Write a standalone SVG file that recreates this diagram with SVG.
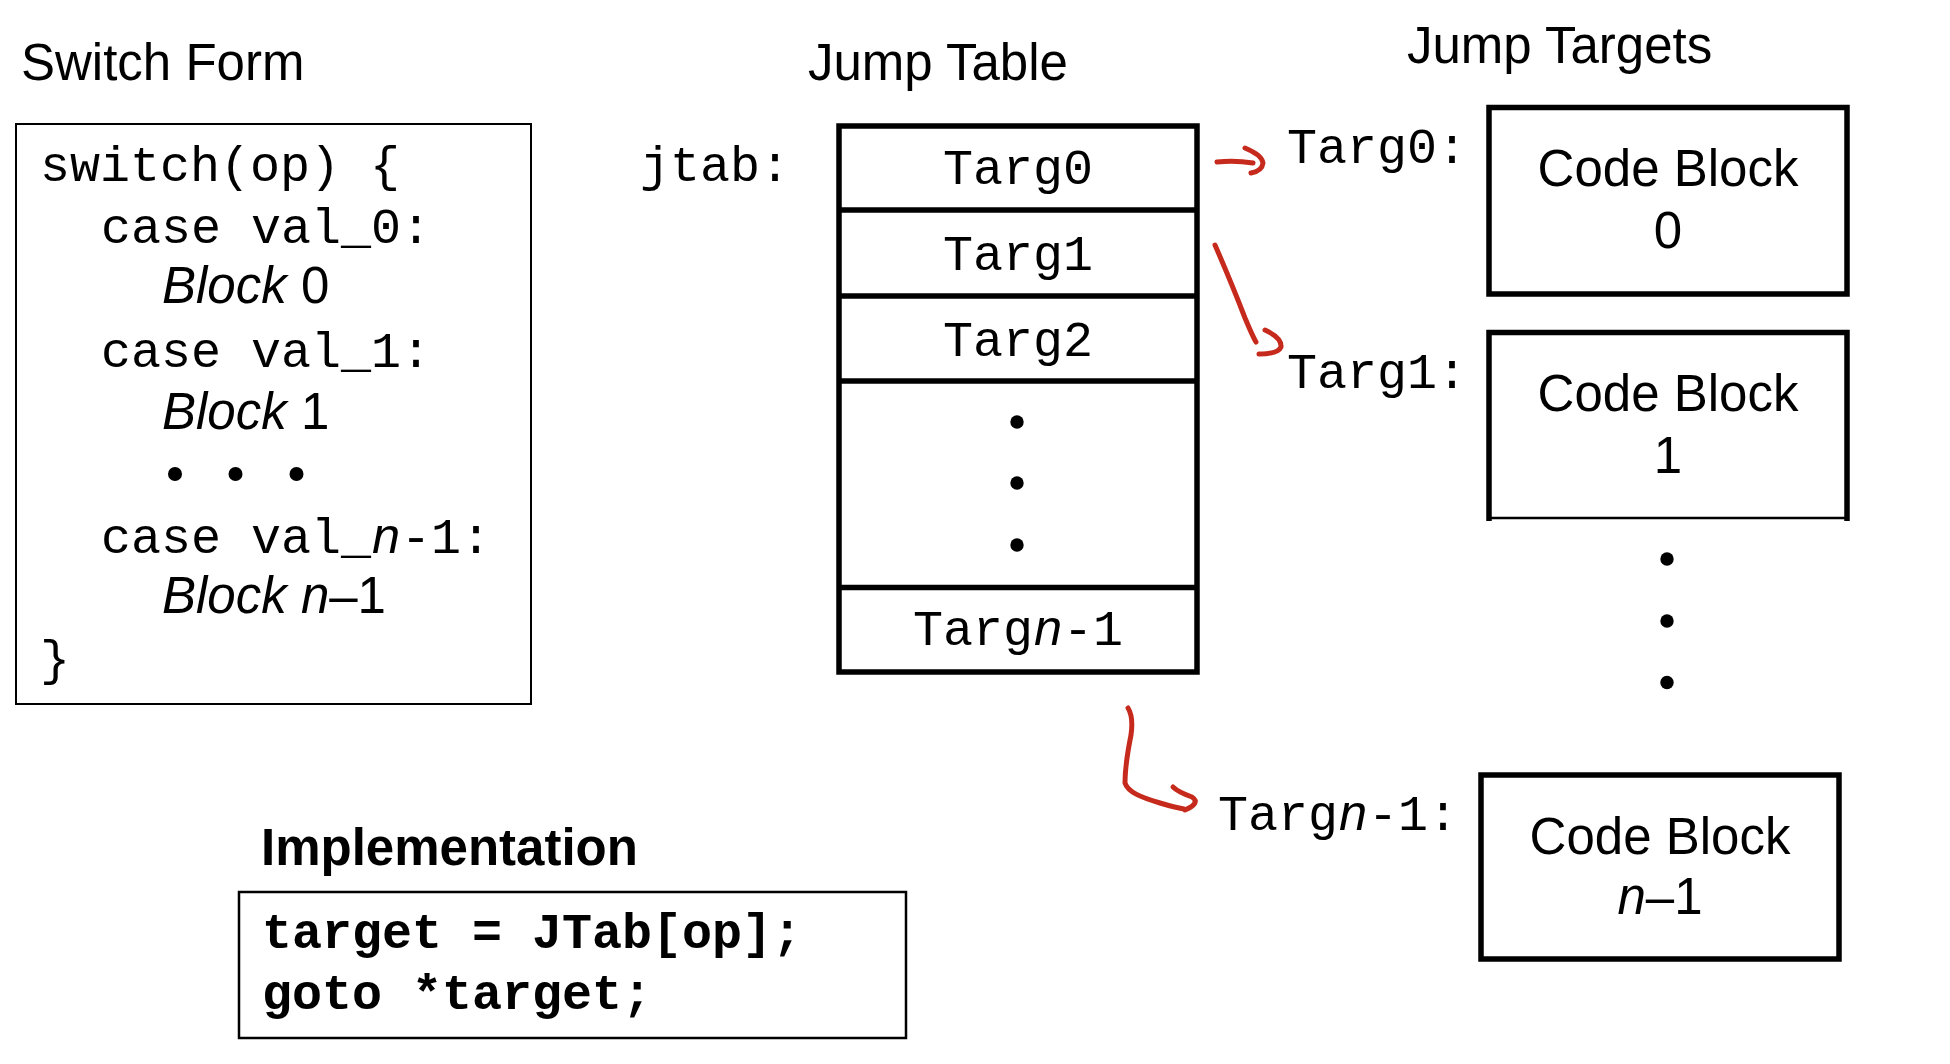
<svg xmlns="http://www.w3.org/2000/svg" width="1950" height="1064" viewBox="0 0 1950 1064">
<style>
.title{font-family:"Liberation Sans",Arial,sans-serif;font-size:51px;fill:#000}
.bold{font-weight:bold}
.mono{font-family:"Liberation Mono","Courier New",monospace;font-size:50px;fill:#000}
.sans{font-family:"Liberation Sans",Arial,sans-serif;font-size:51px;fill:#000}
.it{font-style:italic}
.thin{fill:none;stroke:#000;stroke-width:2}
.thick{fill:none;stroke:#000;stroke-width:5.5}
.red{fill:none;stroke:#c62a1c;stroke-width:5;stroke-linecap:round;stroke-linejoin:round}
.mid{text-anchor:middle}
</style>
<rect width="1950" height="1064" fill="#fff"/>

<g id="switch-form">
  <text class="title" x="21" y="80">Switch Form</text>
  <rect class="thin" x="16" y="124" width="515" height="580"/>
  <text class="mono" x="40" y="181">switch(op) {</text>
  <text class="mono" x="101" y="243">case val_0:</text>
  <text class="sans" x="162" y="303"><tspan class="it">Block</tspan> 0</text>
  <text class="mono" x="101" y="367">case val_1:</text>
  <text class="sans" x="162" y="429"><tspan class="it">Block</tspan> 1</text>
  <circle cx="175" cy="474" r="7"/>
  <circle cx="235.5" cy="474" r="7"/>
  <circle cx="296.5" cy="474" r="7"/>
  <text class="mono" x="101" y="553">case val_<tspan class="it">n</tspan>-1:</text>
  <text class="sans" x="162" y="613"><tspan class="it">Block n</tspan>–1</text>
  <text class="mono" x="40" y="675">}</text>
</g>

<g id="jump-table">
  <text class="title" x="808" y="80">Jump Table</text>
  <text class="mono" x="640" y="181">jtab:</text>
  <rect class="thick" x="839" y="126" width="358" height="546"/>
  <line class="thick" x1="839" y1="210" x2="1197" y2="210"/>
  <line class="thick" x1="839" y1="296" x2="1197" y2="296"/>
  <line class="thick" x1="839" y1="381" x2="1197" y2="381"/>
  <line class="thick" x1="839" y1="587.5" x2="1197" y2="587.5"/>
  <text class="mono mid" x="1018" y="184">Targ0</text>
  <text class="mono mid" x="1018" y="270">Targ1</text>
  <text class="mono mid" x="1018" y="356">Targ2</text>
  <circle cx="1017" cy="422" r="6.7"/>
  <circle cx="1017" cy="483" r="6.7"/>
  <circle cx="1017" cy="545" r="6.7"/>
  <text class="mono mid" x="1018" y="645">Targ<tspan class="it">n</tspan>-1</text>
</g>

<g id="jump-targets">
  <text class="title" x="1407" y="63">Jump Targets</text>
</g>

<g id="code-block-0">
  <text class="mono" x="1287" y="163">Targ0:</text>
  <rect class="thick" x="1489" y="107.5" width="358" height="186.5"/>
  <text class="sans mid" x="1668" y="186">Code Block</text>
  <text class="sans mid" x="1668" y="248">0</text>
</g>

<g id="code-block-1">
  <text class="mono" x="1287" y="388">Targ1:</text>
  <path class="thick" d="M1489,521 V332.5 H1847 V521"/>
  <line x1="1489" y1="518" x2="1847" y2="518" stroke="#000" stroke-width="2.5"/>
  <text class="sans mid" x="1668" y="411">Code Block</text>
  <text class="sans mid" x="1668" y="473">1</text>
  <circle cx="1667" cy="559" r="6.7"/>
  <circle cx="1667" cy="621" r="6.7"/>
  <circle cx="1667" cy="682.5" r="6.7"/>
</g>

<g id="code-block-n-1">
  <text class="mono" x="1218" y="830">Targ<tspan class="it">n</tspan>-1:</text>
  <rect class="thick" x="1481" y="775" width="358" height="184"/>
  <text class="sans mid" x="1660" y="854">Code Block</text>
  <text class="sans mid" x="1660" y="914"><tspan class="it">n</tspan>–1</text>
</g>

<g id="implementation">
  <text class="title bold" x="261" y="865">Implementation</text>
  <rect x="239" y="892" width="667" height="146" fill="none" stroke="#000" stroke-width="2.5"/>
  <text class="mono bold" x="262" y="948">target = JTab[op];</text>
  <text class="mono bold" x="262" y="1009">goto *target;</text>
</g>

<g id="connectors">
  <path class="red" d="M1217,162 Q1235,160 1253,163"/>
  <path class="red" d="M1245,148 Q1262,155 1263,163 Q1262,171 1251,173"/>
  <path class="red" d="M1215,245 C1225,268 1235,292 1245,318 C1250,330 1253,337 1256,342"/>
  <path class="red" d="M1265,330 Q1282,338 1281,347 Q1278,354 1259,354"/>
  <path class="red" d="M1128,708 C1133,716 1132,728 1131,735 C1128,750 1125,765 1125,783 C1128,792 1140,797 1160,803 C1170,806 1178,808 1184,809"/>
  <path class="red" d="M1173,787 Q1178,792 1192,797 Q1201,803 1185,810"/>
</g>
</svg>
